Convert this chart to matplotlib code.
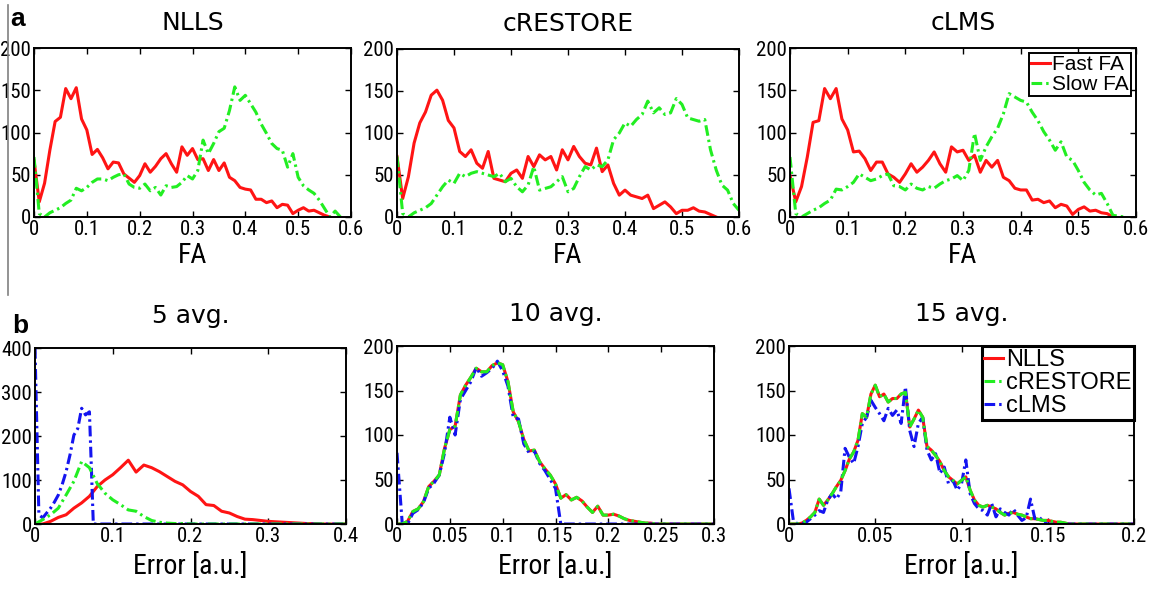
import numpy as np
import matplotlib
matplotlib.use("Agg")
import matplotlib.pyplot as plt
from matplotlib.lines import Line2D
from matplotlib import font_manager

# --- data (histogram counts on regular bins) ---
fa_step = 0.01
nlls_fast = [67, 18, 40, 79, 113, 118, 152, 140, 153, 116, 103, 74, 80, 70, 57, 65, 64, 51, 46, 41,
             49, 63, 53, 60, 69, 75, 63, 53, 83, 73, 81, 68, 69, 55, 68, 55, 64, 47, 43, 35,
             33, 32, 21, 21, 17, 19, 11, 15, 14, 4, 8, 11, 7, 8, 5, 2, 0]
nlls_slow = [71, 4, 0, 5, 8, 11, 16, 20, 34, 31, 35, 41, 45, 45, 43, 47, 50, 51, 39, 35,
             34, 39, 31, 35, 26, 37, 35, 36, 41, 49, 45, 55, 91, 75, 87, 101, 105, 126, 154, 138,
             144, 134, 124, 110, 99, 87, 81, 79, 59, 75, 47, 37, 32, 28, 20, 10, 0, 7, 0]
crestore_fast = [72, 22, 48, 88, 112, 125, 145, 151, 139, 115, 106, 78, 72, 80, 64, 58, 78, 46, 44, 42,
                 52, 56, 46, 72, 60, 74, 68, 72, 56, 80, 68, 84, 72, 64, 62, 82, 54, 62, 40, 26,
                 32, 26, 24, 22, 26, 10, 14, 18, 12, 4, 8, 8, 11, 7, 6, 3, 0]
crestore_slow = [72, 4, 0, 5, 8, 11, 16, 26, 36, 44, 40, 52, 48, 52, 54, 52, 50, 48, 52, 42,
                 46, 36, 30, 38, 60, 32, 34, 36, 42, 48, 30, 34, 48, 60, 56, 62, 60, 68, 92, 100,
                 112, 108, 116, 122, 138, 124, 130, 122, 124, 141, 134, 118, 116, 114, 116, 80, 56, 38, 32, 16, 8]
clms_fast = [49, 18, 36, 71, 112, 114, 152, 140, 152, 116, 103, 77, 78, 69, 55, 65, 65, 51, 47, 41,
             51, 63, 53, 59, 67, 77, 63, 53, 83, 77, 79, 67, 73, 53, 67, 59, 67, 47, 43, 34,
             32, 32, 20, 21, 17, 19, 11, 15, 13, 3, 9, 12, 7, 8, 5, 4, 0]
clms_slow = [71, 4, 0, 4, 8, 11, 16, 20, 33, 32, 36, 41, 51, 47, 43, 45, 49, 51, 37, 36,
             32, 39, 34, 32, 36, 34, 39, 43, 45, 49, 43, 55, 99, 67, 83, 95, 105, 122, 146, 142,
             138, 136, 124, 114, 101, 91, 79, 89, 71, 67, 55, 41, 32, 26, 28, 16, 2, 1, 0]

avg5_step = 0.01
avg5_nlls = [0, 0, 6, 15, 21, 36, 48, 63, 85, 100, 112, 128, 145, 118, 134, 128, 119, 108, 97, 89,
             74, 63, 44, 42, 29, 25, 17, 11, 10, 8, 6, 5, 4, 3, 2, 1, 1, 0, 0, 0, 0]
avg5_crestore = [0, 10, 21, 36, 66, 97, 142, 128, 92, 70, 55, 44, 32, 29, 17, 8, 4, 2, 1, 1,
                 0, 0, 0, 0, 0, 0, 0, 0, 0, 0, 0, 0, 0, 0, 0, 0, 0, 0, 0, 0, 0]
avg5_clms_step = 0.005
avg5_clms = [400, 21, 14, 25, 36, 50, 66, 90, 119, 157, 202, 217, 263, 248, 255, 0] + [0] * 65

avg10_step = 0.005
avg10_nlls = [0, 0, 3, 14, 17, 25, 42, 48, 55, 85, 106, 110, 145, 156, 165, 175, 171, 171, 178, 181,
              179, 160, 126, 115, 95, 82, 83, 70, 62, 55, 45, 29, 33, 27, 30, 26, 19, 13, 20, 10,
              10, 11, 9, 6, 4, 3, 2, 1, 1] + [0] * 12
avg10_crestore = list(avg10_nlls)
avg10_clms = [80, 0, 0, 12, 16, 24, 40, 46, 55, 80, 120, 100, 140, 150, 160, 176, 166, 170, 175, 183,
              172, 155, 120, 118, 90, 80, 82, 68, 60, 50, 40, 0] + [0] * 29

avg15_step = 0.0025
avg15_nlls = [0, 0, 0, 1, 4, 8, 13, 28, 21, 27, 34, 42, 49, 60, 73, 81, 94, 124, 120, 146,
              156, 143, 146, 137, 141, 141, 146, 148, 109, 118, 128, 120, 87, 83, 77, 70, 60, 53, 49, 45,
              49, 53, 38, 27, 21, 19, 21, 19, 17, 13, 10, 12, 13, 11, 10, 8, 6, 6, 5, 4,
              4, 3, 2, 2, 1] + [0] * 16
avg15_crestore = list(avg15_nlls)
avg15_clms = [40, 4, 0, 0, 2, 6, 10, 15, 13, 27, 34, 28, 36, 85, 75, 68, 87, 113, 120, 139,
              131, 124, 116, 130, 122, 128, 113, 154, 105, 87, 113, 120, 83, 72, 79, 57, 64, 45, 49, 38,
              45, 72, 34, 23, 17, 15, 10, 23, 8, 17, 13, 10, 17, 10, 4, 7, 28, 6, 8, 2,
              0] + [0] * 20

RED, GREEN, BLUE = '#ff1414', '#22ee22', '#1414f0'
W, H = 1151, 589
LW = 2.2
DASHDOT = (3.5, 1.3, 0.8, 1.3)

# the axis text in the reference is a narrow Helvetica; use whatever condensed face is installed
entries = font_manager.fontManager.ttflist
names = {f.name for f in entries}
narrow = None
for cand in ['Liberation Sans Narrow', 'Arial Narrow', 'Roboto Condensed', 'Open Sans Condensed']:
    if cand in names:
        narrow = font_manager.FontProperties(family=cand)
        break
if narrow is None:
    cond = [f for f in entries if str(f.stretch) in ('condensed', 'semi-condensed', 'extra-condensed')
            and f.style == 'normal']
    pref = [f for f in cond if f.name == 'DejaVu Sans'] or [f for f in cond if f.name in
                                                            ('Roboto', 'Open Sans', 'Noto Sans')] or cond
    if pref:
        narrow = font_manager.FontProperties(fname=pref[0].fname)
    else:
        narrow = font_manager.FontProperties(family='Liberation Sans')


def fp(size):
    p = narrow.copy()
    p.set_size(size)
    return p


def box(l, t, r, b):
    return [l / W, 1 - b / H, (r - l) / W, (b - t) / H]


def bins(y, step):
    return np.arange(len(y)) * step


def style(ax, xmax, xticks, ymax, yticks, xlabel, title, title_pad, label_pad):
    ax.set_xlim(0, xmax)
    ax.set_ylim(0, ymax)
    ax.set_xticks(xticks)
    ax.set_yticks(yticks)
    ax.set_xticklabels(['%g' % t for t in xticks], fontproperties=fp(15))
    ax.set_yticklabels(['%g' % t for t in yticks], fontproperties=fp(15))
    ax.tick_params(direction='in', top=True, right=True, length=4, width=1.0, pad=2)
    for s in ax.spines.values():
        s.set_linewidth(1.4)
    ax.set_xlabel(xlabel, fontproperties=fp(20), labelpad=label_pad)
    ax.set_title(title, fontsize=18, family='DejaVu Sans', pad=title_pad)


fig = plt.figure(figsize=(W / 100, H / 100), dpi=100)

# --- row a: FA histograms ---
top = [('NLLS', (34, 48, 351, 217), nlls_fast, nlls_slow),
       ('cRESTORE', (397, 49, 739, 217), crestore_fast, crestore_slow),
       ('cLMS', (790, 48, 1136, 217), clms_fast, clms_slow)]
for name, px, fast, slow in top:
    ax = fig.add_axes(box(*px))
    hf, = ax.plot(bins(fast, fa_step), fast, color=RED, lw=LW, label='Fast FA')
    hs, = ax.plot(bins(slow, fa_step), slow, color=GREEN, lw=LW, dashes=DASHDOT, label='Slow FA')
    style(ax, 0.6, [0, 0.1, 0.2, 0.3, 0.4, 0.5, 0.6], 200, [0, 50, 100, 150, 200], 'FA', name, 13, 2)
    if name == 'cLMS':
        leg = ax.legend(handles=[hf, hs], loc='upper right', bbox_to_anchor=(1.0, 1.0),
                        borderaxespad=0.25, fancybox=False, framealpha=1, edgecolor='black',
                        prop={'family': 'Liberation Sans', 'size': 15}, handlelength=0.9,
                        handletextpad=0.1, labelspacing=0.05, borderpad=0.1)
        leg.get_frame().set_linewidth(1.4)

# --- row b: error histograms ---
bottom = [('5 avg.', (35, 348, 346, 524), 0.4, [0, 0.1, 0.2, 0.3, 0.4], 400, [0, 100, 200, 300, 400],
           (avg5_nlls, avg5_step), (avg5_crestore, avg5_step), (avg5_clms, avg5_clms_step)),
          ('10 avg.', (397, 346, 714, 524), 0.3, [0, 0.05, 0.1, 0.15, 0.2, 0.25, 0.3], 200, [0, 50, 100, 150, 200],
           (avg10_nlls, avg10_step), (avg10_crestore, avg10_step), (avg10_clms, avg10_step)),
          ('15 avg.', (789, 346, 1134, 524), 0.2, [0, 0.05, 0.1, 0.15, 0.2], 200, [0, 50, 100, 150, 200],
           (avg15_nlls, avg15_step), (avg15_crestore, avg15_step), (avg15_clms, avg15_step))]
for name, px, xmax, xt, ymax, yt, s_nlls, s_cre, s_clms in bottom:
    ax = fig.add_axes(box(*px))
    hn, = ax.plot(bins(*s_nlls), s_nlls[0], color=RED, lw=LW, label='NLLS')
    hl, = ax.plot(bins(*s_clms), s_clms[0], color=BLUE, lw=LW, dashes=DASHDOT, label='cLMS')
    hc, = ax.plot(bins(*s_cre), s_cre[0], color=GREEN, lw=LW, dashes=DASHDOT, label='cRESTORE')
    style(ax, xmax, xt, ymax, yt, 'Error [a.u.]', name, 18, 5)
    if name == '15 avg.':
        leg = ax.legend(handles=[hn, hc, hl], loc='upper right', bbox_to_anchor=(1.0, 1.0),
                        borderaxespad=0.0, fancybox=False, framealpha=1, edgecolor='black',
                        prop={'family': 'Liberation Sans', 'size': 17}, handlelength=0.8,
                        handletextpad=0.1, labelspacing=0.05, borderpad=0.12)
        leg.get_frame().set_linewidth(2.2)

# panel letters and the thin frame line on the left
fig.text(10 / W, 1 - 26 / H, 'a', fontsize=19, fontweight='bold', family='Liberation Sans')
fig.text(12 / W, 1 - 333 / H, 'b', fontsize=19, fontweight='bold', family='Liberation Sans')
fig.add_artist(Line2D([8 / W, 8 / W], [1 - 5 / H, 1 - 295 / H], color='#808080', lw=1.2))

fig.savefig('out.png', dpi=100)
